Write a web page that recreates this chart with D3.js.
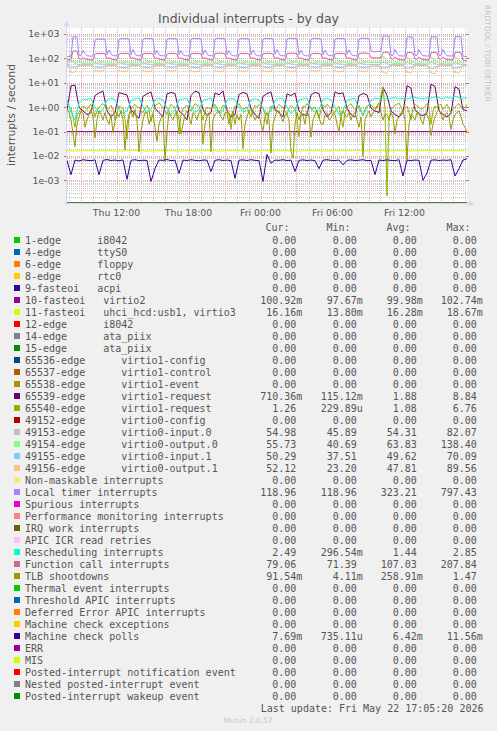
<!DOCTYPE html>
<html><head><meta charset="utf-8">
<script src="https://cdn.jsdelivr.net/npm/d3@7"></script>
<style>body{margin:0;background:#f0f0f0}svg{display:block}</style>
</head><body>
<svg id="c" width="497" height="731"></svg>
<script>
// ---------- DATA ----------
const title = "Individual interrupts - by day";
const yTitle = "interrupts / second";
const timeStart = "2026-05-21T07:52:30Z";
const timeEnd = "2026-05-22T17:12:30Z";
const yDomain = [1.175e-4, 1762];
const yTicks = [1e3, 1e2, 1e1, 1e0, 1e-1, 1e-2, 1e-3];
const yTickLabels = ["1e+03", "1e+02", "1e+01", "1e+00", "1e-01", "1e-02", "1e-03"];
const xTickTimes = ["2026-05-21T12:00:00Z", "2026-05-21T18:00:00Z", "2026-05-22T00:00:00Z", "2026-05-22T06:00:00Z", "2026-05-22T12:00:00Z"];
const xTickLabels = ["Thu 12:00", "Thu 18:00", "Fri 00:00", "Fri 06:00", "Fri 12:00"];

const legendNames = [
"1-edge      i8042","4-edge      ttyS0","6-edge      floppy","8-edge      rtc0","9-fasteoi   acpi",
"10-fasteoi   virtio2","11-fasteoi   uhci_hcd:usb1, virtio3","12-edge      i8042","14-edge      ata_piix","15-edge      ata_piix",
"65536-edge      virtio1-config","65537-edge      virtio1-control","65538-edge      virtio1-event","65539-edge      virtio1-request","65540-edge      virtio1-request",
"49152-edge      virtio0-config","49153-edge      virtio0-input.0","49154-edge      virtio0-output.0","49155-edge      virtio0-input.1","49156-edge      virtio0-output.1",
"Non-maskable interrupts","Local timer interrupts","Spurious interrupts","Performance monitoring interrupts","IRQ work interrupts",
"APIC ICR read retries","Rescheduling interrupts","Function call interrupts","TLB shootdowns","Thermal event interrupts",
"Threshold APIC interrupts","Deferred Error APIC interrupts","Machine check exceptions","Machine check polls","ERR",
"MIS","Posted-interrupt notification event","Nested posted-interrupt event","Posted-interrupt wakeup event"];
const legendColors = [
"#00CC00","#0066B3","#FF8000","#FFCC00","#330099","#990099","#CCFF00","#FF0000","#808080","#008F00",
"#00487D","#B35A00","#B38F00","#6B006B","#8FB300","#B30000","#BEBEBE","#80FF80","#80C9FF","#FFC080",
"#FFE680","#AA80FF","#EE00CC","#FF8080","#666600","#FFBFFF","#00FFCC","#CC6699","#999900","#00CC00",
"#0066B3","#FF8000","#FFCC00","#330099","#990099","#CCFF00","#FF0000","#808080","#008F00"];
const legendCur = ["0.00","0.00","0.00","0.00","0.00","100.92m","16.16m","0.00","0.00","0.00","0.00","0.00","0.00","710.36m","1.26","0.00","54.98","55.73","50.29","52.12","0.00","118.96","0.00","0.00","0.00","0.00","2.49","79.06","91.54m","0.00","0.00","0.00","0.00","7.69m","0.00","0.00","0.00","0.00","0.00"];
const legendMin = ["0.00","0.00","0.00","0.00","0.00","97.67m","13.80m","0.00","0.00","0.00","0.00","0.00","0.00","115.12m","229.89u","0.00","45.89","40.69","37.51","23.20","0.00","118.96","0.00","0.00","0.00","0.00","296.54m","71.39","4.11m","0.00","0.00","0.00","0.00","735.11u","0.00","0.00","0.00","0.00","0.00"];
const legendAvg = ["0.00","0.00","0.00","0.00","0.00","99.98m","16.28m","0.00","0.00","0.00","0.00","0.00","0.00","1.88","1.08","0.00","54.31","63.83","49.62","47.81","0.00","323.21","0.00","0.00","0.00","0.00","1.44","107.03","258.91m","0.00","0.00","0.00","0.00","6.42m","0.00","0.00","0.00","0.00","0.00"];
const legendMax = ["0.00","0.00","0.00","0.00","0.00","102.74m","18.67m","0.00","0.00","0.00","0.00","0.00","0.00","8.84","6.76","0.00","82.07","138.40","70.09","89.56","0.00","797.43","0.00","0.00","0.00","0.00","2.85","207.84","1.47","0.00","0.00","0.00","0.00","11.56m","0.00","0.00","0.00","0.00","0.00"];

// Local timer interrupts (201 samples)
const locTimer = [
120,122,126,760,775,740,135,130,210,160,
128,125,124,126,560,610,620,615,620,600,
140,220,150,130,128,126,590,640,650,640,
645,620,140,230,150,132,128,127,600,650,
655,650,640,630,145,215,140,130,128,126,
600,640,650,650,640,620,140,210,145,130,
127,125,610,650,660,650,645,630,140,220,
150,132,128,126,620,660,665,660,650,630,
140,210,145,130,127,125,600,640,650,645,
640,620,140,220,150,130,127,125,610,650,
660,655,645,625,145,230,150,132,128,126,
620,660,665,660,650,630,140,215,145,130,
127,125,600,645,655,650,640,620,140,220,
150,132,128,126,610,650,660,655,645,630,
145,225,150,132,128,126,620,660,670,665,
655,640,200,190,185,190,195,200,820,850,
840,800,135,130,240,160,130,127,125,126,
740,760,750,720,135,130,235,155,130,127,
125,126,750,770,760,730,135,130,240,160,
130,127,125,126,760,797,780,740,125,120,
119];
// Function call interrupts (201 samples)
const funcCall = [
86,88,90,200,207,195,95,92,105,95,
90,88,87,88,150,158,160,158,160,155,
95,108,96,90,88,87,150,158,162,160,
160,155,96,110,95,90,88,87,152,160,
162,160,158,155,96,105,92,89,88,87,
150,158,160,160,158,152,95,105,94,89,
88,87,152,160,163,160,158,155,95,108,
96,90,88,87,155,162,165,162,160,155,
95,105,94,89,88,87,150,158,160,158,
158,152,95,108,96,90,88,87,152,160,
163,162,158,152,96,110,96,90,88,87,
155,162,165,162,160,155,95,105,94,89,
88,87,150,158,162,160,158,152,95,108,
96,90,88,87,152,160,163,160,158,155,
96,110,96,90,88,87,155,162,166,164,
160,155,110,106,104,105,106,108,175,182,
178,170,96,92,112,98,90,88,87,88,
168,176,172,165,95,92,110,97,90,88,
87,88,170,178,175,168,95,92,112,98,
90,88,87,88,172,180,176,168,85,80,
79];
// virtio0-output.0 (101 samples)
const virtio0Out0 = [
62,138,80,68,62,60,61,
110,76,70,62,60,61, 105,75,70,62,60,60, 112,76,70,62,61,60, 108,75,69,62,60,61,
115,77,70,63,61,60, 110,76,70,62,60,60, 105,75,69,62,61,60, 112,76,70,63,60,61,
108,75,70,62,60,60, 110,76,70,62,61,60, 115,77,71,63,61,60,
110,76,70,68,67,66, 125,80,64,62,61,60, 120,78,63,61,60,60, 122,78,63,61,60,61,
125,80,60,55.73];
// virtio0-input.0 (101 samples)
const virtio0In0 = [
55,82,62,54,53,54,55,
65,60,58,54,53,54, 66,61,58,54,53,55, 64,60,57,54,53,54, 65,61,58,55,53,54,
66,60,58,54,53,54, 64,60,57,54,54,55, 65,61,58,54,53,54, 66,60,58,54,53,55,
64,60,57,54,53,54, 65,61,58,55,53,54, 66,60,58,54,53,54,
64,60,57,56,56,55, 70,62,54,53,54,55, 68,61,54,53,54,55, 69,62,54,53,54,55,
66,60,55,54.98];
// virtio0-input.1 (101 samples)
const virtio0In1 = [
52,44,43,50,52,53,52,
45,43,44,50,52,53, 44,42,43,51,52,52, 44,42,44,50,52,53, 45,43,44,51,52,52,
44,42,43,50,52,53, 45,43,44,51,52,52, 44,42,43,50,52,53, 45,43,44,51,52,52,
44,42,43,50,52,53, 45,43,44,51,52,52, 44,42,43,50,52,53,
45,43,44,48,48,49, 40,42,52,53,52,52, 40,41,52,53,52,52, 38,41,52,53,52,52,
40,42,50,50.29];
// virtio0-output.1 (101 samples)
const virtio0Out1 = [
85,26,28,50,55,56,55,
32,30,31,52,55,56, 30,29,31,53,55,56, 31,29,30,52,55,55, 32,30,31,52,55,56,
30,28,30,53,55,56, 31,29,31,52,55,55, 32,30,31,52,55,56, 30,29,30,53,55,56,
31,29,31,52,55,55, 32,30,31,52,55,56, 30,28,30,53,55,56,
31,29,31,48,47,48, 26,24,50,55,56,55, 27,25,52,55,56,55, 25,23.2,52,55,56,55,
26,25,50,52.12];
// Rescheduling interrupts (101 samples)
const resched = [
2.0,0.6,0.3,1.5,2.2,2.1,2.3,
1.0,0.6,0.8,2.0,2.3,2.1, 0.9,0.55,0.7,1.9,2.2,2.4, 1.1,0.6,0.8,2.1,2.3,2.0, 0.9,0.5,0.75,2.0,2.2,2.3,
1.0,0.6,0.8,1.9,2.1,2.4, 0.9,0.55,0.7,2.0,2.3,2.1, 1.0,0.6,0.8,2.1,2.2,2.0, 0.9,0.5,0.7,1.9,2.3,2.2,
1.0,0.55,0.75,2.0,2.2,2.4, 0.9,0.6,0.8,2.1,2.3,2.0, 1.0,0.5,0.7,1.9,2.2,2.3,
0.8,0.5,0.9,2.0,2.3,2.2, 2.4,2.1,2.3,2.5,2.2,2.3, 2.2,2.4,2.5,2.3,2.2,2.4, 2.3,2.6,2.4,2.2,2.5,2.3,
2.85,2.4,2.3,2.49];
// 65539-edge virtio1-request (101 samples)
const virtio1Req39 = [
0.8,7.5,8.0,1.0,0.7,0.5,0.6,
3.0,3.8,4.5,0.7,0.4,0.6, 4.0,3.5,3.2,0.8,0.5,0.35, 2.8,3.5,4.2,0.9,0.6,0.4, 3.5,4.0,3.6,0.7,0.5,0.3,
3.0,4.5,4.0,0.8,0.45,0.6, 3.8,3.2,4.6,0.7,0.4,0.5, 3.3,4.0,3.5,0.9,0.5,0.35, 2.8,3.6,4.2,0.8,0.6,0.4,
3.5,3.0,3.8,0.7,0.5,0.45, 3.2,4.0,3.6,0.8,0.4,0.6, 4.2,3.5,3.9,0.9,0.5,0.4,
3.0,3.6,3.2,0.9,0.7,0.6, 6.5,3.0,0.7,0.5,0.4,0.6, 7.6,6.0,0.8,0.5,0.45,0.6, 8.84,7.0,0.7,0.5,0.4,0.55,
6.9,5.5,0.8,0.71];
// 65540-edge virtio1-request (201 samples)
const virtio1Req40 = [
1.2,1.0,0.9,0.4,0.15,0.5,0.6,0.9,1.1,1.0,
0.8,1.1,1.3,0.9,0.4,0.7,1.0,1.2,1.4,1.1,
0.7,0.9,1.2,0.8,0.3,0.6,1.1,1.0,0.9,0.3,
0.05,0.4,0.8,1.1,1.3,1.0,1.0,0.7,0.6,0.9,
1.2,0.8,0.25,0.6,1.1,1.3,1.5,1.2,0.9,0.7,
0.5,0.9,1.3,1.1,1.0,0.4,0.08,0.5,0.9,1.0,
1.2,0.9,0.7,1.0,1.4,1.2,1.1,0.6,0.3,0.7,
1.0,0.9,0.85,1.1,1.3,0.9,0.6,0.8,1.2,1.0,
0.9,0.5,0.12,0.6,1.1,1.2,1.4,1.0,0.8,0.9,
1.0,0.7,0.4,0.8,1.2,1.0,1.3,1.1,0.9,0.5,
0.2,0.6,1.1,0.9,0.7,1.0,1.3,1.1,1.0,0.7,
0.5,0.9,1.2,1.0,0.9,0.3,0.06,0.5,1.1,1.0,
1.4,1.1,0.8,0.9,1.0,0.6,0.35,0.8,1.2,1.0,
1.3,1.1,0.9,0.7,0.6,0.9,1.1,0.4,0.15,0.6,
1.0,1.2,1.4,1.0,0.8,0.9,1.2,0.7,0.45,0.8,
1.1,1.2,1.3,1.0,0.9,1.1,1.0,3.0,6.76,0.8,
0.00023,0.3,0.8,1.0,1.2,1.3,1.5,1.0,0.7,0.9,
1.1,0.6,0.3,0.9,1.3,1.1,1.0,0.8,0.9,1.1,
1.4,0.9,0.2,0.7,1.1,1.0,1.2,1.3,0.8,1.0,
1.3,0.9,0.6,0.8,1.0,1.2,1.4,1.0,1.1,0.9,
1.26];
// TLB shootdowns (201 samples)
const tlbShootdowns = [
0.9,0.6,0.3,0.08,0.024,0.2,0.4,0.7,0.6,0.15,
0.3,0.5,0.8,0.4,0.055,0.3,0.7,0.5,0.3,0.6,
0.3,0.2,0.5,0.09,0.25,0.6,0.4,0.7,0.3,0.0175,
0.2,0.5,0.7,0.4,0.8,0.3,0.015,0.1,0.3,0.6,
0.6,0.2,0.35,0.5,0.15,0.04,0.2,0.35,0.5,0.0059,
0.1,0.6,0.4,0.3,0.5,0.7,0.3,0.08,0.2,0.5,
0.7,0.4,0.2,0.6,0.5,0.3,0.6,0.8,0.03,0.2,
0.4,0.6,0.015,0.3,0.5,0.6,0.7,0.4,0.3,0.6,
0.6,0.2,0.4,0.7,0.2,0.5,0.3,0.5,0.02,0.2,
0.4,0.7,0.8,0.5,0.3,0.4,0.5,0.2,0.11,0.4,
0.6,0.3,0.013,0.2,0.4,0.7,0.7,0.4,0.25,0.5,
0.5,0.3,0.015,0.008,0.2,0.6,0.3,0.5,0.45,0.2,
0.7,0.4,0.06,0.3,0.5,0.7,0.4,0.2,0.2,0.5,
0.6,0.3,0.35,0.6,0.5,0.2,0.1,0.4,0.7,0.5,
0.4,0.6,0.3,0.5,0.6,0.3,0.15,0.4,0.0095,0.3,
0.5,0.7,0.4,0.6,0.7,1.1,1.47,0.6,0.3,0.5,
0.5,0.3,0.6,0.4,0.08,0.3,0.4,0.6,0.7,0.3,
0.0069,0.2,0.5,0.4,0.3,0.6,0.6,0.3,0.2,0.5,
0.5,0.3,0.07,0.2,0.4,0.6,0.8,0.5,0.3,0.5,
0.6,0.4,0.12,0.3,0.5,0.6,0.7,0.4,0.2,0.15,
0.0915];
// 10-fasteoi virtio2 (21 samples)
const irq10 = [0.1003,0.0998,0.1001,0.0999,0.1002,0.0997,0.1000,0.1001,0.0999,0.1003,0.0998,0.1000,0.1002,0.0999,0.1001,0.0998,0.1000,0.1002,0.0999,0.1001,0.1009];
// 11-fasteoi uhci_hcd:usb1, virtio3 (41 samples)
const irq11 = [0.0162,0.0158,0.0166,0.0160,0.0164,0.0157,0.0163,0.0168,0.0159,0.0161,0.0165,0.0158,0.0163,0.0160,0.0167,0.0159,0.0162,0.0164,0.0158,0.0161,0.0166,0.0160,0.0163,0.0157,0.0165,0.0162,0.0159,0.0164,0.0161,0.0167,0.0158,0.0163,0.0160,0.0165,0.0159,0.0162,0.0166,0.0160,0.0163,0.0161,0.0162];
// Machine check polls (101 samples)
const mcePolls = [
0.0065,0.0017,0.0068,0.0062,0.0070,0.0066,0.0064,0.0069,0.0017,0.0066,
0.0071,0.0065,0.0068,0.0063,0.0069,0.0011,0.0066,0.0070,0.0064,0.0067,
0.0065,0.0009,0.0030,0.0068,0.0066,0.0071,0.0064,0.0067,0.0019,0.0068,
0.0065,0.0070,0.0066,0.0063,0.0068,0.0067,0.0023,0.0066,0.0070,0.0065,
0.0068,0.0064,0.0012,0.0067,0.0069,0.0065,0.0070,0.0066,0.0064,0.0009,
0.0115,0.0050,0.0068,0.0066,0.0070,0.0065,0.0067,0.0023,0.0066,0.0069,
0.0065,0.0068,0.0064,0.0030,0.0067,0.0070,0.0066,0.0065,0.0068,0.0043,
0.0066,0.0069,0.0065,0.0067,0.0070,0.0064,0.0066,0.0017,0.0068,0.0065,
0.0069,0.0066,0.0064,0.0070,0.0015,0.0067,0.0065,0.0068,0.0066,0.0010,
0.0020,0.0067,0.0069,0.0065,0.0068,0.0066,0.0070,0.0015,0.0030,0.0068,
0.00769];
const zeroSeries = [0, 0];

// legend index -> series values
const seriesTable = {5: irq10, 6: irq11, 13: virtio1Req39, 14: virtio1Req40, 16: virtio0In0, 17: virtio0Out0,
  18: virtio0In1, 19: virtio0Out1, 21: locTimer, 26: resched, 27: funcCall, 28: tlbShootdowns, 33: mcePolls};

// ---------- DRAW ----------
const W = 497, H = 731;
const P = {l: 67, r: 467, t: 28, b: 203};
const svg = d3.select("#c");
const t0 = new Date(timeStart), t1 = new Date(timeEnd);
const x = d3.scaleUtc().domain([t0, t1]).range([P.l, P.r]);
const y = d3.scaleLog().domain(yDomain).range([P.b, P.t]).clamp(true);
const sans = "'DejaVu Sans', Verdana, sans-serif";
const mono = "'DejaVu Sans Mono', monospace";
const textCol = "#555";

svg.append("rect").attr("width", W).attr("height", H).attr("fill", "#f0f0f0");
svg.append("rect").attr("x", P.l).attr("y", P.t).attr("width", P.r - P.l).attr("height", P.b - P.t).attr("fill", "#fff");

const defs = svg.append("defs");
defs.append("clipPath").attr("id", "clip").append("rect")
  .attr("x", P.l).attr("y", P.t).attr("width", P.r - P.l + 1).attr("height", P.b - P.t);

const grid = svg.append("g");
const minorY = [];
for (let k = -4; k <= 3; k++) for (let m = 2; m <= 9; m++) {
  const v = m * Math.pow(10, k);
  if (v > yDomain[0] && v < yDomain[1]) minorY.push(v);
}
grid.selectAll(".hmin").data(minorY).join("line")
  .attr("x1", P.l).attr("x2", P.r)
  .attr("y1", d => Math.round(y(d)) + 0.5).attr("y2", d => Math.round(y(d)) + 0.5)
  .attr("stroke", "#c8c8c8").attr("stroke-dasharray", "1,1");
const hours = d3.utcHour.every(1).range(t0, t1);
grid.selectAll(".vmin").data(hours.filter(h => h.getUTCHours() % 3 !== 0)).join("line")
  .attr("y1", P.t).attr("y2", P.b)
  .attr("x1", d => Math.round(x(d)) + 0.5).attr("x2", d => Math.round(x(d)) + 0.5)
  .attr("stroke", "#c8c8c8").attr("stroke-dasharray", "1,1");
grid.selectAll(".hmaj").data(yTicks).join("line")
  .attr("x1", P.l).attr("x2", P.r)
  .attr("y1", d => Math.round(y(d)) + 0.5).attr("y2", d => Math.round(y(d)) + 0.5)
  .attr("stroke", "#f0a0a0").attr("stroke-dasharray", "1,1");
grid.selectAll(".vmaj").data(hours.filter(h => h.getUTCHours() % 3 === 0)).join("line")
  .attr("y1", P.t).attr("y2", P.b)
  .attr("x1", d => Math.round(x(d)) + 0.5).attr("x2", d => Math.round(x(d)) + 0.5)
  .attr("stroke", "#f0a0a0").attr("stroke-dasharray", "1,1");
grid.selectAll(".rt").data(yTicks).join("line")
  .attr("x1", P.r - 1).attr("x2", P.r + 2)
  .attr("y1", d => Math.round(y(d)) + 0.5).attr("y2", d => Math.round(y(d)) + 0.5)
  .attr("stroke", "#e06060");
grid.selectAll(".lt").data(yTicks).join("line")
  .attr("x1", P.l - 3).attr("x2", P.l)
  .attr("y1", d => Math.round(y(d)) + 0.5).attr("y2", d => Math.round(y(d)) + 0.5)
  .attr("stroke", "#e06060");

// axes
const axisCol = "#CFD6F8";
svg.append("line").attr("x1", P.l - 0.5).attr("x2", P.l - 0.5).attr("y1", P.b + 3).attr("y2", P.t - 4).attr("stroke", axisCol);
svg.append("path").attr("d", `M${P.l - 0.5},${P.t - 7} L${P.l - 3.5},${P.t - 2} L${P.l + 2.5},${P.t - 2} Z`).attr("fill", axisCol);
svg.append("line").attr("x1", P.l - 3).attr("x2", P.r + 4).attr("y1", P.b + 0.5).attr("y2", P.b + 0.5).attr("stroke", axisCol);
svg.append("path").attr("d", `M${P.r + 7},${P.b + 0.5} L${P.r + 2},${P.b - 2.5} L${P.r + 2},${P.b + 3.5} Z`).attr("fill", axisCol);

// series
const gS = svg.append("g").attr("clip-path", "url(#clip)");
const line = d3.line().x(d => x(d[0])).y(d => y(d[1]));
legendNames.forEach((name, i) => {
  const vals = seriesTable[i] || zeroSeries;
  const n = vals.length;
  const pts = vals.map((v, k) => [new Date(+t0 + (t1 - t0) * k / (n - 1)), v > 0 ? v : yDomain[0]]);
  gS.append("path").datum(pts).attr("d", line)
    .attr("fill", "none").attr("stroke", legendColors[i]).attr("stroke-width", 1)
    .attr("stroke-linejoin", "round");
});

// y tick labels
svg.selectAll(".yl").data(yTicks).join("text")
  .attr("x", 59.5).attr("y", d => y(d)).attr("dy", "0.36em")
  .attr("text-anchor", "end").attr("font-family", sans).attr("font-size", 9.33).attr("fill", textCol)
  .text((d, i) => yTickLabels[i]);
// x tick labels
svg.selectAll(".xl").data(xTickTimes).join("text")
  .attr("x", d => x(new Date(d))).attr("y", 216)
  .attr("text-anchor", "middle").attr("font-family", sans).attr("font-size", 9.33).attr("fill", textCol)
  .text((d, i) => xTickLabels[i]);

// titles
svg.append("text").attr("x", 248.5).attr("y", 22.7).attr("text-anchor", "middle")
  .attr("font-family", sans).attr("font-size", 12.5).attr("fill", textCol).text(title);
svg.append("text").attr("transform", "translate(14.5,115) rotate(-90)").attr("text-anchor", "middle")
  .attr("font-family", sans).attr("font-size", 10.8).attr("fill", textCol).text(yTitle);
svg.append("text").attr("transform", "translate(485,5) rotate(90)").attr("text-anchor", "start")
  .attr("font-family", sans).attr("font-size", 7.5).attr("fill", "#c4c4c4").text("RRDTOOL / TOBI OETIKER");

// legend
const headX = [265.5, 326.5, 386.5, 446.5];
const headers = ["Cur:", "Min:", "Avg:", "Max:"];
svg.selectAll(".hd").data(headers).join("text")
  .attr("x", (d, i) => headX[i]).attr("y", 231)
  .attr("font-family", mono).attr("font-size", 10).attr("fill", textCol).text(d => d);
const colEnd = [296.3, 356.8, 416.8, 476.8];
const cols = [legendCur, legendMin, legendAvg, legendMax];
const lg = svg.append("g");
legendNames.forEach((name, i) => {
  const base = 243.5 + 12 * i;
  lg.append("rect").attr("x", 14).attr("y", base - 6.5).attr("width", 6).attr("height", 6).attr("fill", legendColors[i]);
  lg.append("text").attr("x", 25).attr("y", base).attr("xml:space", "preserve").style("white-space", "pre")
    .attr("font-family", mono).attr("font-size", 10).attr("fill", textCol).text(name);
  cols.forEach((col, c) => {
    const s = col[i];
    const suf = /[a-z]$/i.test(s) ? s.slice(-1) : "";
    const num = suf ? s.slice(0, -1) : s;
    lg.append("text").attr("x", colEnd[c]).attr("y", base).attr("text-anchor", "end")
      .attr("font-family", mono).attr("font-size", 10).attr("fill", textCol).text(num);
    if (suf) lg.append("text").attr("x", colEnd[c]).attr("y", base)
      .attr("font-family", mono).attr("font-size", 10).attr("fill", textCol).text(suf);
  });
});
svg.append("text").attr("x", 483.5).attr("y", 711.5).attr("text-anchor", "end")
  .attr("font-family", mono).attr("font-size", 10).attr("fill", textCol).text("Last update: Fri May 22 17:05:20 2026");
svg.append("text").attr("x", 248).attr("y", 722.5).attr("text-anchor", "middle")
  .attr("font-family", sans).attr("font-size", 7.5).attr("fill", "#c8c8c8").text("Munin 2.0.57");
</script>
</body></html>
